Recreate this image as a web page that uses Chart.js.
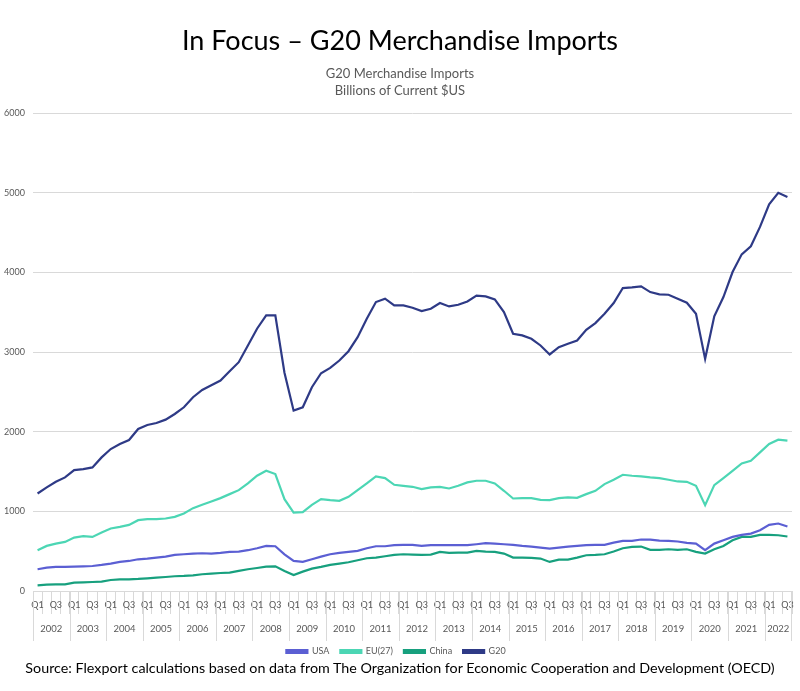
<!DOCTYPE html>
<html>
<head>
<meta charset="utf-8">
<script src="https://cdn.jsdelivr.net/npm/chart.js@4.4.0/dist/chart.umd.min.js"></script>
<style>
  html, body { margin: 0; padding: 0; background: #fff; }
  #wrap { position: relative; width: 800px; height: 691px; font-family: Lato, sans-serif; }
  #title { position: absolute; top: 22px; left: 0; width: 800px; text-align: center; font-size: 27px; line-height: 36px; color: #000; }
  #sub { position: absolute; top: 65px; left: 0; width: 800px; text-align: center; font-size: 13px; line-height: 17px; color: #595959; }
  #source { position: absolute; top: 658px; left: 0; width: 800px; text-align: center; font-size: 14.3px; line-height: 20px; color: #000; }
  canvas { position: absolute; left: 0; top: 0; }
</style>
</head>
<body>
<div id="wrap">
  <canvas id="chart" width="800" height="691"></canvas>
  <div id="title">In Focus – G20 Merchandise Imports</div>
  <div id="sub">G20 Merchandise Imports<br>Billions of Current $US</div>
  <div id="source">Source: Flexport calculations based on data from The Organization for Economic Cooperation and Development (OECD)</div>
</div>
<script>
// quarterly, 2002 Q1 .. 2022 Q3
const years = [2002, 2003, 2004, 2005, 2006, 2007, 2008, 2009, 2010, 2011, 2012,
  2013, 2014, 2015, 2016, 2017, 2018, 2019, 2020, 2021, 2022];
const quarterNames = ["Q1", "Q2", "Q3", "Q4"];
const lastYearQuarters = 3;

const usa = [273, 294, 302, 302, 306, 310, 314, 327, 344, 365,
  377, 398, 407, 419, 432, 453, 461, 470, 474, 470,
  478, 491, 495, 512, 537, 566, 562, 461, 377, 365,
  398, 432, 461, 478, 491, 503, 537, 562, 562, 575,
  579, 579, 566, 575, 575, 575, 575, 575, 587, 600,
  595, 587, 579, 566, 558, 545, 532, 545, 558, 566,
  575, 579, 579, 608, 629, 629, 646, 646, 633, 629,
  621, 604, 595, 512, 595, 637, 679, 704, 721, 763,
  830, 847, 809];

const eu27 = [512, 566, 595, 616, 671, 688, 679, 734, 784, 805,
  830, 889, 901, 901, 910, 931, 973, 1040, 1082, 1124,
  1166, 1216, 1266, 1350, 1447, 1509, 1468, 1153, 985, 990,
  1082, 1153, 1140, 1132, 1182, 1266, 1350, 1438, 1417, 1333,
  1320, 1308, 1279, 1300, 1308, 1287, 1321, 1363, 1384, 1384,
  1350, 1258, 1161, 1166, 1166, 1145, 1140, 1166, 1174, 1170,
  1216, 1258, 1342, 1396, 1459, 1447, 1438, 1426, 1417, 1396,
  1375, 1371, 1321, 1078, 1329, 1417, 1509, 1602, 1635, 1740,
  1845, 1899, 1887];

const china = [71, 80, 84, 84, 105, 109, 113, 117, 138, 147,
  147, 151, 159, 168, 176, 185, 189, 197, 210, 218,
  226, 231, 252, 273, 289, 306, 310, 252, 201, 243,
  281, 302, 327, 344, 361, 386, 411, 419, 436, 453,
  461, 457, 453, 457, 491, 478, 482, 482, 503, 495,
  491, 470, 419, 419, 415, 407, 365, 394, 394, 419,
  449, 453, 461, 495, 537, 553, 558, 516, 516, 524,
  516, 524, 491, 470, 524, 566, 637, 679, 679, 704,
  704, 700, 684];

const g20 = [1224, 1300, 1371, 1426, 1518, 1530, 1551, 1677, 1782, 1845,
  1895, 2034, 2084, 2109, 2151, 2222, 2306, 2432, 2524, 2583,
  2642, 2759, 2872, 3082, 3292, 3459, 3459, 2740, 2264, 2306,
  2558, 2733, 2801, 2893, 3010, 3186, 3417, 3627, 3669, 3585,
  3585, 3556, 3513, 3543, 3614, 3572, 3593, 3635, 3707, 3698,
  3660, 3501, 3229, 3208, 3166, 3082, 2969, 3061, 3103, 3145,
  3279, 3363, 3480, 3614, 3803, 3811, 3824, 3752, 3723, 3719,
  3669, 3619, 3480, 2914, 3447, 3690, 4004, 4226, 4327, 4570,
  4855, 4998, 4947];

const yTicks = [0, 1000, 2000, 3000, 4000, 5000, 6000];

// category labels + which year each belongs to
const labels = [];
const labelYear = [];
years.forEach((yr, k) => {
  const n = k === years.length - 1 ? lastYearQuarters : 4;
  for (let q = 0; q < n; q++) {
    labels.push(quarterNames[q]);
    labelYear.push(yr);
  }
});

const gridGrey = "#d9d9d9";
const textGrey = "#595959";
const smallFont = { family: "Lato", size: 9 };

// second row of the axis: year names and the long separators
const yearRow = {
  id: "yearRow",
  afterDraw(chart) {
    const x = chart.scales.x;
    const ctx = chart.ctx;
    const half = (x.getPixelForValue(1) - x.getPixelForValue(0)) / 2;
    const top = chart.chartArea.bottom;
    ctx.save();
    ctx.strokeStyle = gridGrey;
    ctx.lineWidth = 1;
    ctx.fillStyle = textGrey;
    ctx.font = "9.5px Lato";
    ctx.textAlign = "center";
    ctx.textBaseline = "middle";
    let start = 0;
    years.forEach((yr) => {
      let end = start;
      while (end + 1 < labelYear.length && labelYear[end + 1] === yr) end++;
      const left = x.getPixelForValue(start) - half;
      const right = x.getPixelForValue(end) + half;
      ctx.beginPath();
      ctx.moveTo(Math.round(left) + 0.5, top);
      ctx.lineTo(Math.round(left) + 0.5, top + 50);
      ctx.stroke();
      if (end === labelYear.length - 1) {
        ctx.beginPath();
        ctx.moveTo(Math.round(right) - 0.5, top);
        ctx.lineTo(Math.round(right) - 0.5, top + 50);
        ctx.stroke();
      }
      ctx.fillText(String(yr), (left + right) / 2, top + 38);
      start = end + 1;
    });
    ctx.restore();
  }
};

const ctx = document.getElementById("chart").getContext("2d");
new Chart(ctx, {
  type: "line",
  data: {
    labels: labels,
    datasets: [
      { label: "USA", data: usa, borderColor: "#5b5fd3", backgroundColor: "#5b5fd3" },
      { label: "EU(27)", data: eu27, borderColor: "#4cd6b4", backgroundColor: "#4cd6b4" },
      { label: "China", data: china, borderColor: "#17a07e", backgroundColor: "#17a07e" },
      { label: "G20", data: g20, borderColor: "#2e3a86", backgroundColor: "#2e3a86" }
    ]
  },
  options: {
    responsive: false,
    animation: false,
    elements: {
      point: { radius: 0 },
      line: { borderWidth: 2.2, tension: 0 }
    },
    layout: { padding: { top: 113, right: 8, bottom: 25, left: 0 } },
    plugins: {
      legend: {
        position: "bottom",
        labels: { boxWidth: 21, boxHeight: 3, padding: 11, color: textGrey, font: smallFont }
      },
      tooltip: { enabled: false }
    },
    scales: {
      x: {
        offset: true,
        grid: { offset: true, drawOnChartArea: false, tickLength: 23, color: gridGrey },
        border: { color: gridGrey },
        ticks: {
          autoSkip: false,
          maxRotation: 0,
          padding: -14,
          color: textGrey,
          font: smallFont,
          callback: function (v, i) {
            return i % 2 === 0 ? this.getLabelForValue(v) : "";
          }
        },
        afterFit(scale) { scale.height = 45; }
      },
      y: {
        min: yTicks[0],
        max: yTicks[yTicks.length - 1],
        afterBuildTicks(scale) { scale.ticks = yTicks.map((v) => ({ value: v })); },
        grid: { color: gridGrey, drawTicks: false },
        border: { display: false },
        ticks: { padding: 8, color: textGrey, font: smallFont, callback: (v) => String(v) },
        afterFit(scale) { scale.width = 33; }
      }
    }
  },
  plugins: [yearRow]
});
</script>
</body>
</html>
